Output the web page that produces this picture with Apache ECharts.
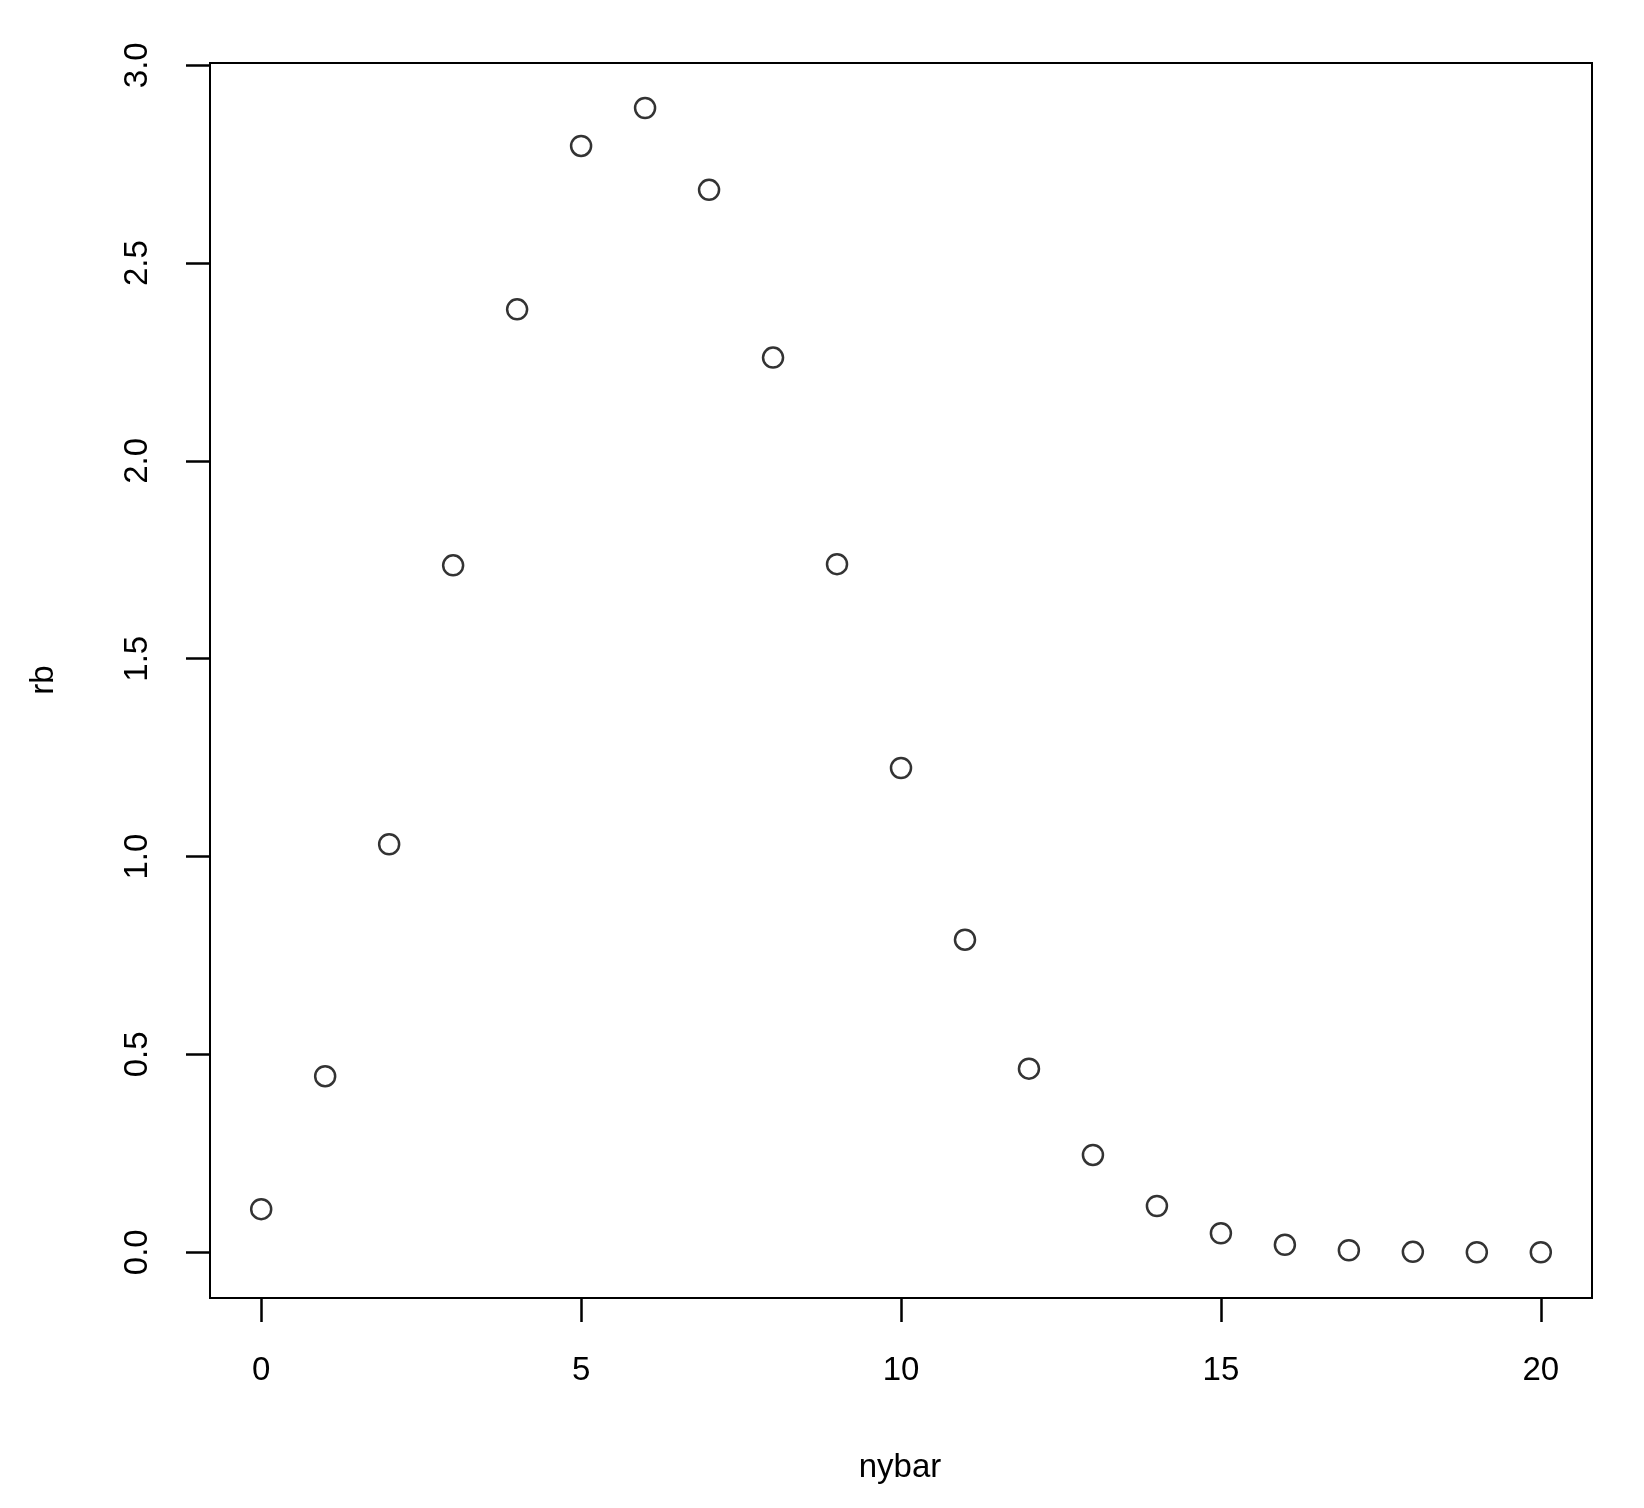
<!DOCTYPE html>
<html><head><meta charset="utf-8">
<script src="https://cdn.jsdelivr.net/npm/echarts@6/dist/echarts.min.js"></script>
<style>html,body{margin:0;background:#fff}#c{width:1644px;height:1508px}</style>
</head><body><div id="c"></div>
<script>
const nybar = [0,1,2,3,4,5,6,7,8,9,10,11,12,13,14,15,16,17,18,19,20];
const rb = [0.109,0.445,1.031,1.736,2.383,2.796,2.892,2.685,2.261,1.739,1.224,0.790,0.464,0.246,0.117,0.048,0.019,0.005,0.001,0.0,0.0];
const xTicks = [0,5,10,15,20];
const yTicks = [0,0.5,1,1.5,2,2.5,3];
const font = 'Liberation Sans, Arial, sans-serif';
const chart = echarts.init(document.getElementById('c'));
chart.setOption({
  animation:false,
  backgroundColor:'#fff',
  grid:{left:210,top:63,width:1382,height:1235,show:true,borderColor:'#000',borderWidth:2,backgroundColor:'transparent'},
  xAxis:{type:'value',min:-0.8,max:20.8,splitLine:{show:false},
    axisLine:{show:false,onZero:false},
    axisTick:{show:true,inside:false,length:24,lineStyle:{color:'#000',width:2.5},customValues:xTicks},
    axisLabel:{customValues:xTicks,margin:56,fontSize:33,color:'#000',fontFamily:font,formatter:v=>String(v)}},
  yAxis:{type:'value',min:-0.1156,max:3.0056,splitLine:{show:false},
    axisLine:{show:false,onZero:false},
    axisTick:{show:true,inside:false,length:24,lineStyle:{color:'#000',width:2.5},customValues:yTicks},
    axisLabel:{customValues:yTicks,rotate:90,margin:56,fontSize:33,color:'#000',fontFamily:font,formatter:v=>v.toFixed(1)}},
  graphic:[
    {type:'text',x:900,y:1468,style:{text:'nybar',font:'33px '+font,fill:'#000',align:'center',verticalAlign:'middle'}},
    {type:'text',x:44,y:680,rotation:Math.PI/2,style:{text:'rb',font:'33px '+font,fill:'#000',align:'center',verticalAlign:'middle'}}
  ],
  series:[{type:'scatter',data:nybar.map((x,i)=>[x,rb[i]]),symbol:'circle',symbolSize:20,
    itemStyle:{color:'transparent',borderColor:'#000',borderWidth:2.5}}]
});
</script></body></html>
